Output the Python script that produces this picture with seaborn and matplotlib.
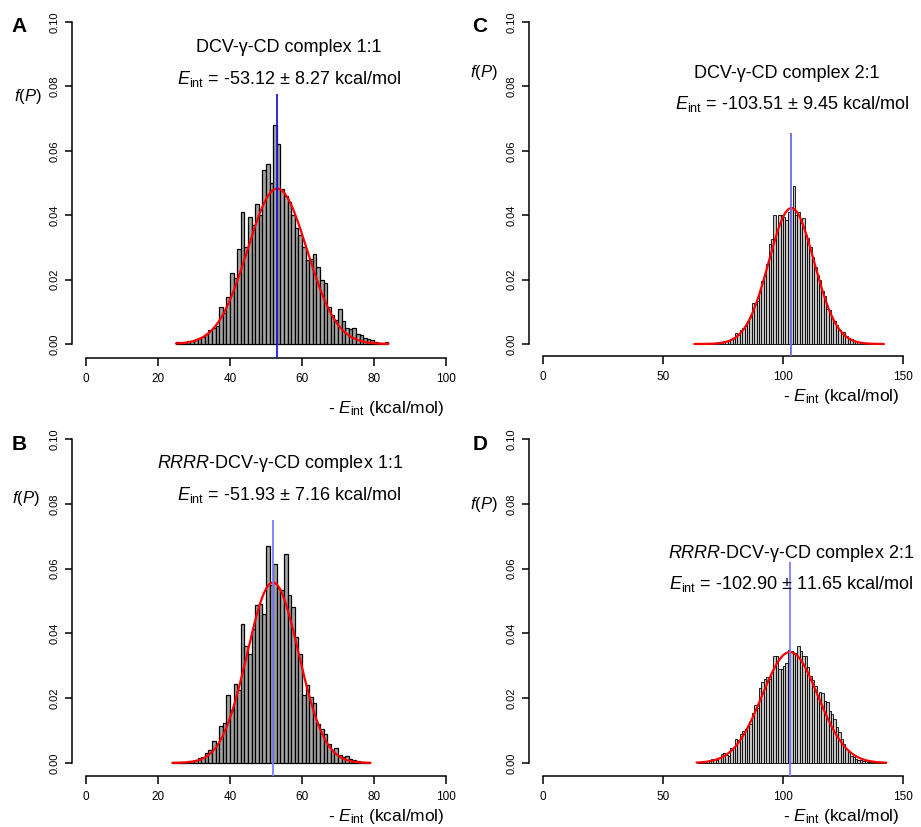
import numpy as np
import pandas as pd
import matplotlib
matplotlib.use('Agg')
import matplotlib.pyplot as plt
import seaborn as sns

# histogram bin heights (density, bin width 1 kcal/mol)
a_start = 25
a_heights = [0.0005, 0.0003, 0.0006, 0.0008, 0.0010, 0.0012, 0.0020, 0.0022, 0.0030, 0.0045,
             0.0050, 0.0055, 0.0115, 0.0095, 0.0145, 0.0220, 0.0205, 0.0295, 0.0410, 0.0300,
             0.0395, 0.0370, 0.0435, 0.0400, 0.0540, 0.0560, 0.0500, 0.0680, 0.0620, 0.0480,
             0.0460, 0.0440, 0.0400, 0.0360, 0.0340, 0.0300, 0.0260, 0.0265, 0.0280, 0.0240,
             0.0200, 0.0190, 0.0115, 0.0090, 0.0075, 0.0110, 0.0070, 0.0050, 0.0048, 0.0050,
             0.0030, 0.0028, 0.0018, 0.0015, 0.0012, 0.0006, 0.0004, 0.0003, 0.0005]
b_start = 24
b_heights = [0.0003, 0.0002, 0.0003, 0.0004, 0.0005, 0.0006, 0.0008, 0.0015, 0.0020, 0.0030,
             0.0040, 0.0068, 0.0060, 0.0115, 0.0125, 0.0210, 0.0165, 0.0245, 0.0225, 0.0430,
             0.0360, 0.0335, 0.0415, 0.0487, 0.0490, 0.0460, 0.0670, 0.0550, 0.0615, 0.0540,
             0.0535, 0.0646, 0.0520, 0.0480, 0.0390, 0.0335, 0.0210, 0.0240, 0.0205, 0.0185,
             0.0120, 0.0105, 0.0090, 0.0060, 0.0040, 0.0045, 0.0025, 0.0020, 0.0022, 0.0012,
             0.0008, 0.0005, 0.0003, 0.0002, 0.0004]
c_start = 63
c_heights = [0.0001, 0.0002, 0.0001, 0.0002, 0.0002, 0.0001, 0.0003, 0.0002, 0.0004, 0.0003,
             0.0005, 0.0006, 0.0008, 0.0010, 0.0013, 0.0016, 0.0020, 0.0034, 0.0028, 0.0045,
             0.0050, 0.0055, 0.0072, 0.0085, 0.0126, 0.0125, 0.0135, 0.0165, 0.0195, 0.0210,
             0.0250, 0.0310, 0.0325, 0.0400, 0.0355, 0.0400, 0.0400, 0.0395, 0.0385, 0.0410,
             0.0426, 0.0490, 0.0400, 0.0410, 0.0375, 0.0390, 0.0340, 0.0330, 0.0300, 0.0270,
             0.0240, 0.0215, 0.0200, 0.0165, 0.0150, 0.0110, 0.0105, 0.0080, 0.0070, 0.0060,
             0.0045, 0.0036, 0.0036, 0.0025, 0.0020, 0.0014, 0.0010, 0.0008, 0.0007, 0.0005,
             0.0004, 0.0003, 0.0003, 0.0002, 0.0001, 0.0002, 0.0001, 0.0002, 0.0001]
d_start = 64
d_heights = [0.0001, 0.0002, 0.0003, 0.0002, 0.0005, 0.0008, 0.0012, 0.0012, 0.0010, 0.0015,
             0.0028, 0.0030, 0.0025, 0.0023, 0.0045, 0.0050, 0.0074, 0.0070, 0.0090, 0.0100,
             0.0105, 0.0110, 0.0120, 0.0155, 0.0180, 0.0170, 0.0230, 0.0250, 0.0260, 0.0265,
             0.0260, 0.0280, 0.0330, 0.0330, 0.0290, 0.0290, 0.0300, 0.0310, 0.0350, 0.0345,
             0.0335, 0.0340, 0.0360, 0.0345, 0.0330, 0.0330, 0.0295, 0.0270, 0.0255, 0.0238,
             0.0200, 0.0220, 0.0215, 0.0190, 0.0187, 0.0160, 0.0150, 0.0135, 0.0110, 0.0095,
             0.0074, 0.0060, 0.0043, 0.0035, 0.0023, 0.0020, 0.0012, 0.0010, 0.0008, 0.0006,
             0.0005, 0.0004, 0.0004, 0.0003, 0.0004, 0.0002, 0.0003, 0.0002, 0.0001]

# fitted normal: mean and sd of -E_int (kcal/mol)
means = [53.12, 51.93, 103.51, 102.90]
sds = [8.27, 7.16, 9.45, 11.65]
vline_tops = [0.0775, 0.0750, 0.0655, 0.0620]

titles = ["DCV-γ-CD complex 1:1", r"$\mathit{RRRR}$-DCV-γ-CD complex 1:1",
          "DCV-γ-CD complex 2:1", r"$\mathit{RRRR}$-DCV-γ-CD complex 2:1"]
energies = ["-53.12 ± 8.27", "-51.93 ± 7.16", "-103.51 ± 9.45", "-102.90 ± 11.65"]
letters = ["A", "B", "C", "D"]
x_maxes = [100, 100, 150, 150]
x_ticks = [[0, 20, 40, 60, 80, 100], [0, 20, 40, 60, 80, 100], [0, 50, 100, 150], [0, 50, 100, 150]]
y_ticks = [0.00, 0.02, 0.04, 0.06, 0.08, 0.10]

sns.set_theme(style='ticks')
plt.rcParams['font.family'] = ['Liberation Sans', 'DejaVu Sans']
plt.rcParams['mathtext.fontset'] = 'custom'
plt.rcParams['mathtext.rm'] = 'Liberation Sans'
plt.rcParams['mathtext.it'] = 'Liberation Sans:italic'
plt.rcParams['text.color'] = 'black'
plt.rcParams['axes.edgecolor'] = 'black'
plt.rcParams['xtick.color'] = 'black'
plt.rcParams['ytick.color'] = 'black'

W, H = 921, 827
fig = plt.figure(figsize=(W / 100, H / 100), dpi=100)

# pixel layout per panel: spine x, x=0 px, x=max px, y=0.10 px, y=0 px, x-axis line px
layout = {
    'A': dict(sx=72, x0=86, x1=446, ytop=22, y0=344, yl=358),
    'B': dict(sx=72, x0=86, x1=446, ytop=439, y0=763, yl=776),
    'C': dict(sx=529, x0=543, x1=903, ytop=22, y0=344, yl=356),
    'D': dict(sx=529, x0=543, x1=903, ytop=439, y0=763, yl=776),
}
text_pos = {
    # letter, f(P), title line 1, title line 2, x label (right edge)
    'A': dict(let=(19, 27), fp=(28, 97), t1=(289, 48), t2=(289, 79), xl=(445, 408)),
    'B': dict(let=(19, 445), fp=(26, 498), t1=(280, 464), t2=(289, 495), xl=(445, 817)),
    'C': dict(let=(480, 27), fp=(484, 72), t1=(787, 73), t2=(792, 104), xl=(900, 396)),
    'D': dict(let=(480, 445), fp=(484, 505), t1=(791, 553), t2=(791, 584), xl=(900, 817)),
}
hists = {'A': (a_start, a_heights), 'B': (b_start, b_heights),
         'C': (c_start, c_heights), 'D': (d_start, d_heights)}
blue = {'A': '#1a1ae6', 'B': '#7d7dff', 'C': '#6a6af5', 'D': '#7d7dff'}
bar_face = {'A': '#a4a4a4', 'B': '#a4a4a4', 'C': '#c4c4c4', 'D': '#c4c4c4'}
bar_lw = {'A': 0.9, 'B': 0.9, 'C': 0.6, 'D': 0.6}

order = ['A', 'B', 'C', 'D']
for i, key in enumerate(order):
    g = layout[key]
    xmax = x_maxes[i]
    ppu = (g['x1'] - g['x0']) / xmax
    ppy = (g['y0'] - g['ytop']) / 0.10
    xlo = -(g['x0'] - g['sx']) / ppu
    ylo = -(g['yl'] - g['y0']) / ppy
    ax = fig.add_axes([g['sx'] / W, 1 - g['yl'] / H,
                       (g['x1'] - g['sx']) / W, (g['yl'] - g['ytop']) / H])

    start, heights = hists[key]
    n = len(heights)
    df = pd.DataFrame({'x': start + np.arange(n) + 0.5, 'w': heights})
    sns.histplot(data=df, x='x', weights='w', binwidth=1, binrange=(start, start + n),
                 stat='count', ax=ax, color=bar_face[key], edgecolor='black',
                 linewidth=bar_lw[key], alpha=1)

    # normal fit over the histogram range
    xs = np.linspace(start, start + n, 400)
    ys = np.exp(-0.5 * ((xs - means[i]) / sds[i]) ** 2) / (sds[i] * np.sqrt(2 * np.pi))
    ax.plot(xs, ys, color='red', lw=1.6, zorder=4)
    ax.vlines(means[i], ylo, vline_tops[i], color=blue[key], lw=1.3, zorder=5)

    ax.set_xlim(xlo, xmax)
    ax.set_ylim(ylo, 0.10)
    ax.set_xticks(x_ticks[i])
    ax.set_xticklabels([str(t) for t in x_ticks[i]])
    ax.set_yticks(y_ticks)
    ax.set_yticklabels([f"{t:.2f}" for t in y_ticks])
    ax.set_xlabel('')
    ax.set_ylabel('')
    sns.despine(ax=ax)
    ax.spines['left'].set_bounds(0, 0.10)
    ax.spines['bottom'].set_bounds(0, xmax)
    for s in ['left', 'bottom']:
        ax.spines[s].set_linewidth(1.1)
    ax.tick_params(axis='x', length=6, width=1.1, labelsize=8.5, pad=5)
    ax.tick_params(axis='y', length=5, width=1.1, labelsize=8, pad=4, labelrotation=90)
    for lbl in ax.get_yticklabels():
        lbl.set_va('center')

    tp = text_pos[key]
    fig.text(tp['let'][0] / W, 1 - tp['let'][1] / H, letters[i], fontsize=15,
             fontweight='bold', ha='center', va='center')
    fig.text(tp['fp'][0] / W, 1 - tp['fp'][1] / H, r"$\mathit{f}$($\mathit{P}$)",
             fontsize=12, ha='center', va='center')
    fig.text(tp['t1'][0] / W, 1 - tp['t1'][1] / H, titles[i], fontsize=13,
             ha='center', va='center')
    fig.text(tp['t2'][0] / W, 1 - tp['t2'][1] / H,
             r"$\mathit{E}_{\mathrm{int}}$ = " + energies[i] + " kcal/mol",
             fontsize=13, ha='center', va='center')
    fig.text(tp['xl'][0] / W, 1 - tp['xl'][1] / H,
             r"- $\mathit{E}_{\mathrm{int}}$ (kcal/mol)", fontsize=12.5,
             ha='right', va='center')

fig.savefig('out.png', dpi=100)
